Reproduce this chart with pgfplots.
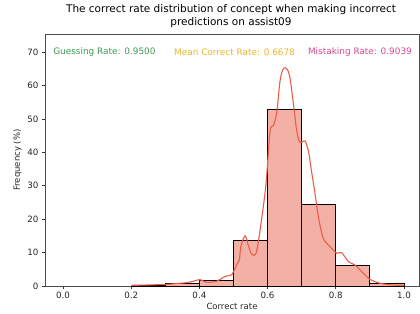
\documentclass[border=0pt]{standalone}
\usepackage{pgfplots}
\pgfplotsset{compat=1.18}
\usepackage{fontspec}
\setmainfont{DejaVu Sans}
\usetikzlibrary{calc}
\definecolor{barfill}{RGB}{243,177,166}
\definecolor{kde}{RGB}{236,92,72}
\definecolor{ggreen}{RGB}{58,154,79}
\definecolor{gold}{RGB}{228,184,46}
\definecolor{gpink}{RGB}{217,72,143}
\begin{document}
\begin{tikzpicture}
\begin{axis}[
  scale only axis,
  width=374bp, height=252bp,
  xmin=-0.0528, xmax=1.044,
  ymin=0, ymax=75.4,
  xtick={0,0.2,0.4,0.6,0.8,1.0},
  xticklabels={0.0,0.2,0.4,0.6,0.8,1.0},
  ytick={0,10,20,30,40,50,60,70},
  tick align=outside,
  major tick length=3bp,
  tick style={black!80, line width=0.7bp},
  axis line style={black!70, line width=0.8bp},
  ticklabel style={font=\fontsize{8.7bp}{10.4bp}\selectfont, black!85},
  /pgf/number format/assume math mode=true,
  xtick pos=bottom, ytick pos=left,
  xlabel={Correct rate},
  ylabel={Frequency (\%)},
  label style={font=\fontsize{8.5bp}{10.2bp}\selectfont, black!85},
  xlabel style={yshift=3bp},
  ylabel style={yshift=-1bp},
  title={The correct rate distribution of concept when making incorrect\\predictions on assist09},
  title style={font=\fontsize{10.5bp}{13.2bp}\selectfont, align=center, yshift=-3bp, xshift=-1bp},
  clip=false,
]
\addplot[ybar interval, fill=barfill, draw=black, line width=0.9bp] coordinates {
(0.2,0.3) (0.3,0.7) (0.4,1.6) (0.5,13.5) (0.6,52.7) (0.7,24.3) (0.8,6.1) (0.9,0.9) (1.0,0.9)
};
\addplot[kde, line width=1.1bp, smooth, tension=0.5, mark=none] coordinates {
(0.20,0.2) (0.25,0.3) (0.305,0.5) (0.34,0.8) (0.363,1.0) (0.385,1.5) (0.402,1.9) (0.421,1.1) (0.45,1.4) (0.47,2.6) (0.48,3.0) (0.495,3.4) (0.51,6.5) (0.517,7.8) (0.522,12.0) (0.534,15.0) (0.543,12.3) (0.553,9.6) (0.566,9.8) (0.578,16.8) (0.595,30.2) (0.607,46.2) (0.617,48) (0.627,52) (0.636,61) (0.644,64.6) (0.653,65.3) (0.664,63.1) (0.675,55.1) (0.685,46.7) (0.693,43.2) (0.700,43) (0.710,43.4) (0.72,40.2) (0.729,34.2) (0.739,27.7) (0.749,20.7) (0.763,14.3) (0.783,11.8) (0.803,9.8) (0.817,10) (0.837,7.3) (0.856,6.3) (0.881,3.8) (0.9,2.0) (0.93,0.8) (0.969,0.3) (1.0,0.1)
};
\node[anchor=west, inner sep=0pt, text=ggreen, font=\fontsize{8.9bp}{10.7bp}\selectfont] at (axis cs:-0.029,70) {Guessing Rate: 0.9500};
\node[anchor=west, inner sep=0pt, text=gold, font=\fontsize{8.9bp}{10.7bp}\selectfont] at (axis cs:0.3255,70) {Mean Correct Rate: 0.6678};
\node[anchor=west, inner sep=0pt, text=gpink, font=\fontsize{8.9bp}{10.7bp}\selectfont] at (axis cs:0.718,70) {Mistaking Rate: 0.9039};
\coordinate (bl) at (rel axis cs:0,0);
\coordinate (tr) at (rel axis cs:1,1);
\end{axis}
\pgfresetboundingbox
\path[use as bounding box] ($(bl)+(-45bp,-28bp)$) rectangle ($(tr)+(1bp,34bp)$);
\end{tikzpicture}
\end{document}
